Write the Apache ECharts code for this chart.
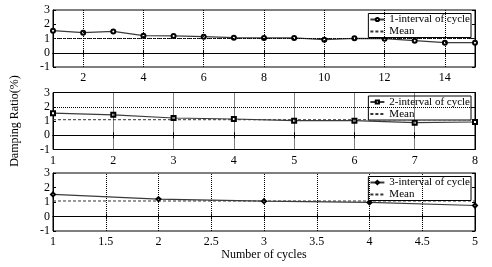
<!DOCTYPE html>
<html><head><meta charset="utf-8">
<script src="https://cdn.jsdelivr.net/npm/echarts@6/dist/echarts.min.js"></script>
<style>html,body{margin:0;padding:0;background:#fff}#c{width:492px;height:267px}</style>
</head><body><div id="c"></div>
<script>
// Subplot 1
const x1 = [1,2,3,4,5,6,7,8,9,10,11,12,13,14,15];
const y1 = [1.55,1.41,1.50,1.20,1.18,1.13,1.06,1.04,1.04,0.92,1.01,0.99,0.85,0.71,0.71];
const mean1 = 1.0;
const xTicks1 = [2,4,6,8,10,12,14];
const hGrid1 = [1];
const name1 = '1-interval of cycle';
// Subplot 2
const x2 = [1,2,3,4,5,6,7,8];
const y2 = [1.55,1.43,1.21,1.14,1.02,1.02,0.88,0.93];
const mean2 = 1.09;
const xTicks2 = [1,2,3,4,5,6,7,8];
const hGrid2 = [0,2];
const name2 = '2-interval of cycle';
// Subplot 3
const x3 = [1,2,3,4,5];
const y3 = [1.52,1.20,1.06,0.97,0.76];
const mean3 = 1.07;
const xTicks3 = [1,1.5,2,2.5,3,3.5,4,4.5,5];
const hGrid3 = [0];
const name3 = '3-interval of cycle';

const FONT = 'Liberation Serif';
const chart = echarts.init(document.getElementById('c'), null, {renderer:'canvas'});

const plots = [
  {x:x1,y:y1,mean:mean1,xt:xTicks1,hg:hGrid1,name:name1,sym:'emptyCircle',top:10,h:57},
  {x:x2,y:y2,mean:mean2,xt:xTicks2,hg:hGrid2,name:name2,sym:'emptyRect',top:92.5,h:57},
  {x:x3,y:y3,mean:mean3,xt:xTicks3,hg:hGrid3,name:name3,sym:'emptyDiamond',top:173,h:58}
];

const grid=[], xAxis=[], yAxis=[], series=[], legend=[];
plots.forEach((p,i)=>{
  const xmin = p.x[0], xmax = p.x[p.x.length-1];
  grid.push({left:53, top:p.top, width:422, height:p.h, show:true, borderColor:'#000', borderWidth:1});
  const vGrid = p.xt.filter(v=>v>xmin && v<xmax);
  const xBase = {gridIndex:i, type:'value', min:xmin, max:xmax,
    axisLine:{show:true, lineStyle:{color:'#000'}},
    axisTick:{show:true, inside:true, length:3, customValues:p.xt, lineStyle:{color:'#000'}},
    splitLine:{show:false}};
  xAxis.push(Object.assign({}, xBase, {position:'bottom',
    axisLabel:{show:true, customValues:p.xt, margin:5, color:'#000', fontFamily:FONT, fontSize:12},
    name: i===2 ? 'Number of cycles' : '', nameLocation:'middle', nameGap:17,
    nameTextStyle:{color:'#000', fontFamily:FONT, fontSize:12}}));
  xAxis.push(Object.assign({}, xBase, {position:'top', axisLabel:{show:false}}));
  const yBase = {gridIndex:i, type:'value', min:-1, max:3, interval:1,
    axisLine:{show:true, lineStyle:{color:'#000'}},
    axisTick:{show:true, inside:true, length:3, lineStyle:{color:'#000'}},
    splitLine:{show:false}};
  yAxis.push(Object.assign({}, yBase, {position:'left',
    axisLabel:{show:true, margin:3, color:'#000', fontFamily:FONT, fontSize:12},
    name: i===1 ? 'Damping Ratio(%)' : '', nameLocation:'middle', nameGap:32, nameRotate:90,
    nameTextStyle:{color:'#000', fontFamily:FONT, fontSize:12}}));
  yAxis.push(Object.assign({}, yBase, {position:'right', axisLabel:{show:false}}));
  series.push({type:'line', name:'Mean', xAxisIndex:2*i, yAxisIndex:2*i,
    data:[[xmin,p.mean],[xmax,p.mean]], symbol:'none', silent:true,
    lineStyle:{color:'#333', width:1, type:[3,2]}, itemStyle:{color:'#333'},
    markLine:{silent:true, symbol:'none', label:{show:false}, animation:false,
      lineStyle:{type:'dotted', color:'#000', width:1},
      data:[...p.hg.map(v=>({yAxis:v})), ...vGrid.map(v=>({xAxis:v}))]}, z:2});
  series.push({type:'line', name:p.name, xAxisIndex:2*i, yAxisIndex:2*i,
    data:p.x.map((v,k)=>[v,p.y[k]]), symbol:p.sym, symbolSize:4, showSymbol:true,
    lineStyle:{color:'#3a3a3a', width:1.2}, itemStyle:{color:'#000', borderWidth:1}, z:3});
  legend.push({data:[{name:p.name}, {name:'Mean', itemStyle:{opacity:0}}],
    orient:'vertical', right:21, top:p.top+3.5,
    backgroundColor:'#fff', borderColor:'#000', borderWidth:1, padding:[0,1,0,1],
    itemWidth:14, itemHeight:4, itemGap:0, itemTextGap:1, selectedMode:false,
    textStyle:{color:'#000', fontFamily:FONT, fontSize:11, lineHeight:12}});
});

chart.setOption({animation:false, backgroundColor:'#fff', grid, xAxis, yAxis, series, legend});
</script></body></html>
